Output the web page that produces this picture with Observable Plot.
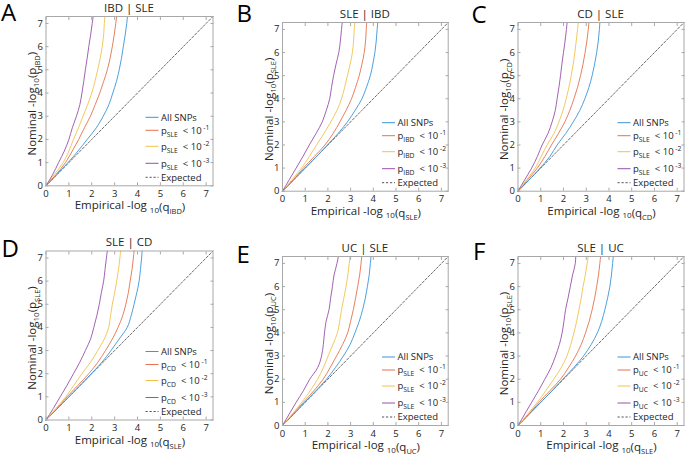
<!DOCTYPE html>
<html><head><meta charset="utf-8">
<script src="https://cdn.jsdelivr.net/npm/d3@7"></script>
<script src="https://cdn.jsdelivr.net/npm/@observablehq/plot@0.6"></script>
<style>
body{margin:0;background:#fff;}
#fig{position:relative;width:685px;height:454px;overflow:hidden;background:#fff;}
.panel{position:absolute;}
text{white-space:pre;}
</style></head><body><div id="fig"></div>
<script>
// ---- data ----
const nominal = [0,0.5,1,1.5,2,2.5,3,3.5,4,4.5,5,5.5,6,6.5,7,7.3];
const tickValues = [0,1,2,3,4,5,6,7];
const panelLetters = ["A","B","C","D","E","F"];
const panelTitles = ["IBD | SLE","SLE | IBD","CD | SLE","SLE | CD","UC | SLE","SLE | UC"];
const primaryTraits = ["IBD","SLE","CD","SLE","UC","SLE"];
const conditionalTraits = ["SLE","IBD","SLE","CD","SLE","UC"];
const thresholdExponents = ["-1","-2","-3"];
const seriesColors = ["#3a95da","#e4734c","#f3c24c","#9850ab"];

const aAll = [0,0.48,0.96,1.4,1.8,2.2,2.5,2.75,2.92,3.08,3.2,3.3,3.38,3.46,3.53,3.56];
const aP1  = [0,0.45,0.85,1.15,1.43,1.68,1.94,2.15,2.35,2.52,2.68,2.8,2.9,2.98,3.05,3.09];
const aP2  = [0,0.37,0.75,1.0,1.2,1.42,1.62,1.82,2.0,2.14,2.26,2.37,2.46,2.52,2.55,2.57];
const aP3  = [0,0.3,0.55,0.8,1.0,1.15,1.33,1.48,1.57,1.65,1.72,1.8,1.87,1.95,2.02,2.06];

const bAll = [0,0.5,1.0,1.5,1.98,2.45,2.86,3.2,3.5,3.7,3.87,3.98,4.07,4.13,4.17,4.2];
const bP1  = [0,0.48,0.92,1.4,1.87,2.23,2.53,2.8,3.04,3.22,3.38,3.5,3.6,3.66,3.69,3.71];
const bP2  = [0,0.42,0.84,1.18,1.5,1.83,2.13,2.4,2.6,2.74,2.86,2.98,3.08,3.13,3.16,3.19];
const bP3  = [0,0.3,0.6,0.9,1.18,1.48,1.75,1.93,2.08,2.16,2.25,2.36,2.48,2.55,2.6,2.63];

const cAll = [0,0.5,0.97,1.4,1.72,2.1,2.43,2.72,2.94,3.12,3.26,3.37,3.46,3.53,3.58,3.6];
const cP1  = [0,0.43,0.85,1.18,1.47,1.78,2.06,2.28,2.46,2.62,2.75,2.86,2.95,3.03,3.09,3.12];
const cP2  = [0,0.38,0.76,1.02,1.28,1.58,1.8,1.98,2.12,2.24,2.34,2.43,2.5,2.56,2.62,2.65];
const cP3  = [0,0.3,0.6,0.85,1.06,1.32,1.5,1.64,1.72,1.8,1.87,1.93,2.0,2.07,2.13,2.16];

const dAll = [0,0.5,1.0,1.5,1.98,2.45,2.84,3.2,3.55,3.72,3.85,3.97,4.07,4.13,4.18,4.2];
const dP1  = [0,0.48,0.92,1.4,1.87,2.27,2.6,2.9,3.15,3.35,3.49,3.6,3.68,3.76,3.82,3.85];
const dP2  = [0,0.43,0.86,1.22,1.57,1.95,2.26,2.55,2.74,2.82,2.9,3.0,3.09,3.17,3.23,3.26];
const dP3  = [0,0.32,0.62,0.92,1.2,1.48,1.72,1.95,2.09,2.22,2.33,2.42,2.52,2.58,2.64,2.68];

const eAll = [0,0.5,0.98,1.47,1.94,2.33,2.68,2.98,3.19,3.38,3.53,3.65,3.74,3.82,3.87,3.9];
const eP1  = [0,0.46,0.92,1.38,1.79,2.1,2.38,2.65,2.87,3.0,3.12,3.22,3.31,3.4,3.46,3.49];
const eP2  = [0,0.43,0.85,1.22,1.55,1.8,2.01,2.22,2.42,2.52,2.6,2.7,2.8,2.88,2.94,2.97];
const eP3  = [0,0.3,0.6,0.92,1.2,1.55,1.72,1.8,1.85,1.92,2.05,2.12,2.2,2.27,2.4,2.46];

const fAll = [0,0.5,1.0,1.5,1.97,2.45,2.88,3.22,3.49,3.68,3.82,3.94,4.04,4.11,4.16,4.19];
const fP1  = [0,0.48,0.92,1.4,1.87,2.22,2.53,2.78,2.97,3.13,3.26,3.37,3.46,3.54,3.6,3.63];
const fP2  = [0,0.43,0.85,1.22,1.57,1.9,2.15,2.32,2.46,2.58,2.68,2.78,2.86,2.96,3.04,3.09];
const fP3  = [0,0.3,0.6,0.9,1.18,1.45,1.65,1.82,1.94,2.02,2.09,2.2,2.3,2.4,2.52,2.54];

const panelSeries = [[aAll,aP1,aP2,aP3],[bAll,bP1,bP2,bP3],[cAll,cP1,cP2,cP3],
                     [dAll,dP1,dP2,dP3],[eAll,eP1,eP2,eP3],[fAll,fP1,fP2,fP3]];

// ---- layout ----
const FONT = "'Open Sans', 'Noto Sans', sans-serif";
const TXT = "#262626";
const panelBoxes = [[0,0,230,227],[230,0,230,227],[460,0,225,227],[0,227,230,227],[230,227,230,227],[460,227,225,227]];
const frames = [[45.5,16,212.5,185.3],[282,22,447.7,190.7],[517.5,22,683.5,190.7],
                [45.5,250.5,212.5,419.5],[282,256,447.7,425],[517.5,256,683.5,425]];
const letterPos = [[1,20.5],[236.5,22],[471.5,23],[1.5,256.5],[236.5,263],[473,260]];

function rich(sel, parts, base){
  let cur = 0;
  for (const p of parts){
    const s = p.shift || 0;
    sel.append("tspan").attr("dy", s - cur).attr("font-size", p.size || base).text(p.t);
    cur = s;
  }
}

const fig = document.getElementById("fig");
for (let i = 0; i < 6; i++){
  const [L,T,PW,PH] = panelBoxes[i];
  const [fx0,fy0,fx1,fy1] = frames[i];
  const mL = fx0-L, mT = fy0-T, mR = L+PW-fx1, mB = T+PH-fy1;
  const lineMarks = panelSeries[i].map((arr,k) =>
    Plot.line(nominal.map((y,j) => ({x: arr[j], y})), {x:"x", y:"y", stroke: seriesColors[k], strokeWidth: 0.9, curve: "monotone-y"}));
  const svg = Plot.plot({
    width: PW, height: PH, marginLeft: mL, marginTop: mT, marginRight: mR, marginBottom: mB,
    x: {domain: [0, 7.3]}, y: {domain: [0, 7.3]},
    style: {fontFamily: FONT, fontSize: "9.5px", color: TXT, background: "transparent", overflow: "visible"},
    marks: [
      Plot.line(nominal, {x: d => d, y: d => d, stroke: "#444", strokeWidth: 0.8, strokeDasharray: "2.2,1.8"}),
      ...lineMarks,
      Plot.frame({stroke: "#a8a8a8", strokeWidth: 1}),
      Plot.axisX(tickValues, {anchor: "bottom", tickSize: 3, dy: -3, fill: "none", stroke: "#a8a8a8"}),
      Plot.axisX(tickValues, {anchor: "top", tickSize: 3, dy: 3, fill: "none", stroke: "#a8a8a8"}),
      Plot.axisY(tickValues, {anchor: "left", tickSize: 3, dx: 3, fill: "none", stroke: "#a8a8a8"}),
      Plot.axisY(tickValues, {anchor: "right", tickSize: 3, dx: -3, fill: "none", stroke: "#a8a8a8"}),
      Plot.axisX(tickValues, {anchor: "bottom", tickSize: 0, tickPadding: 4.5, label: null, fill: TXT}),
      Plot.axisY(tickValues, {anchor: "left", tickSize: 0, tickPadding: 3, label: null, fill: TXT})
    ]
  });
  const div = document.createElement("div");
  div.className = "panel";
  div.style.left = L + "px"; div.style.top = T + "px";
  div.appendChild(svg);
  fig.appendChild(div);

  const g = d3.select(svg).append("g").attr("font-family", FONT).attr("fill", TXT).attr("text-anchor", "start");
  const cx = (fx0 + fx1)/2 - L, cy = (fy0 + fy1)/2 - T;
  const bx = fx0 - L, by = fy1 - T, ty = fy0 - T;
  // panel letter
  g.append("text").attr("x", letterPos[i][0]-L).attr("y", letterPos[i][1]-T).attr("text-anchor", "start")
    .attr("font-size", 24).attr("fill", "#000").text(panelLetters[i]);
  // title
  g.append("text").attr("x", cx).attr("y", ty - 4.5).attr("text-anchor", "middle")
    .attr("font-size", 11.5).text(panelTitles[i]);
  // x label
  const xl = g.append("text").attr("x", cx + 1).attr("y", by + 24).attr("text-anchor", "middle").attr("font-size", 11.5);
  rich(xl, [{t: "Empirical -log "}, {t: "10", size: 8, shift: 3.5}, {t: "(q", shift: 2},
            {t: primaryTraits[i], size: 7.5, shift: 5}, {t: ")", shift: 2}], 11.5);
  // y label
  const yl = g.append("text").attr("transform", `translate(${bx - 9.5},${cy + 3}) rotate(-90)`)
    .attr("text-anchor", "middle").attr("font-size", 11.5);
  rich(yl, [{t: "Nominal -log"}, {t: "10", size: 8, shift: 3}, {t: "(p", shift: 0},
            {t: primaryTraits[i], size: 7.5, shift: 3.5}, {t: ")", shift: 0}], 11.5);
  // legend
  const rows = [68, 55, 39, 22, 8];
  const lx0 = bx + 100, lx1 = bx + 113, tx = bx + 115.5;
  for (let k = 0; k < 5; k++){
    const ry = by - rows[k];
    g.append("line").attr("x1", lx0).attr("x2", lx1).attr("y1", ry).attr("y2", ry)
      .attr("stroke", k < 4 ? seriesColors[k] : "#555").attr("stroke-width", 1)
      .attr("stroke-dasharray", k < 4 ? null : "2.2,1.8");
    const t = g.append("text").attr("x", tx).attr("y", ry + 3.4).attr("text-anchor", "start").attr("font-size", 9.5);
    if (k === 0) t.text("All SNPs");
    else if (k === 4) t.text("Expected");
    else rich(t, [{t: "p"}, {t: conditionalTraits[i], size: 6.8, shift: 3},
                  {t: "  < 10", shift: 0}, {t: " " + thresholdExponents[k-1], size: 6.8, shift: -4}], 9.5);
  }
}
</script></body></html>
